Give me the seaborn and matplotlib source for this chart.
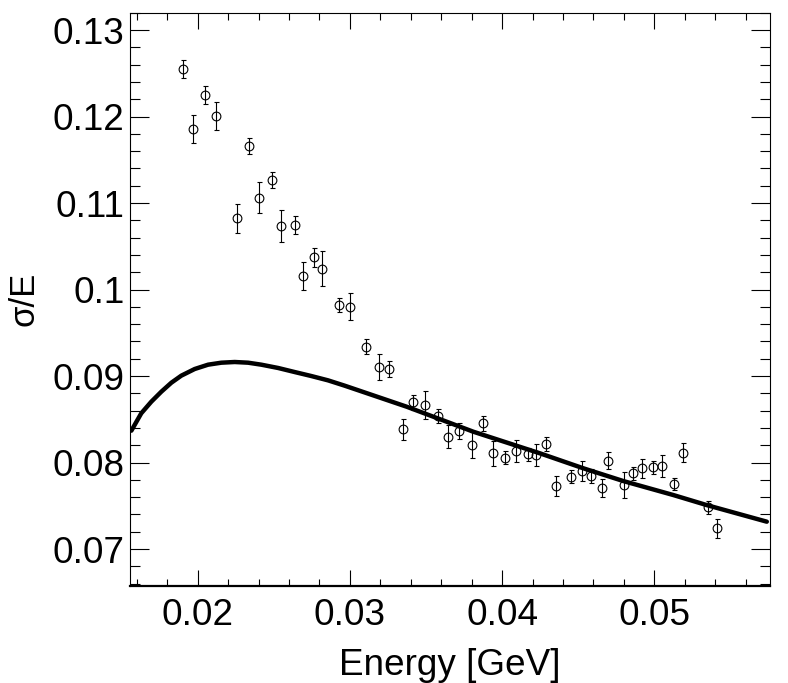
import numpy as np
import pandas as pd
import matplotlib
matplotlib.use("Agg")
import matplotlib.pyplot as plt
from matplotlib.ticker import MultipleLocator, FuncFormatter
import seaborn as sns

# ---- data ----
energy = [0.01905, 0.01971, 0.02048, 0.02118, 0.02256, 0.02337, 0.02403, 0.02490,
          0.02547, 0.02639, 0.02690, 0.02766, 0.02815, 0.02928, 0.03001, 0.03104,
          0.03193, 0.03259, 0.03351, 0.03417, 0.03493, 0.03577, 0.03647, 0.03719,
          0.03804, 0.03877, 0.03938, 0.04017, 0.04089, 0.04172, 0.04221, 0.04288,
          0.04354, 0.04451, 0.04527, 0.04582, 0.04654, 0.04698, 0.04803, 0.04858,
          0.04919, 0.04993, 0.05049, 0.05131, 0.05191, 0.05351, 0.05414]
resolution = [0.12546, 0.11852, 0.12249, 0.12006, 0.10823, 0.11659, 0.11061, 0.11266,
              0.10734, 0.10746, 0.10156, 0.10372, 0.10241, 0.09821, 0.09801, 0.09339,
              0.09101, 0.09081, 0.08384, 0.08696, 0.08665, 0.08538, 0.08298, 0.08364,
              0.08202, 0.08453, 0.08106, 0.08056, 0.08136, 0.08095, 0.08087, 0.08214,
              0.07728, 0.07836, 0.07902, 0.07844, 0.07709, 0.08021, 0.07740, 0.07875,
              0.07933, 0.07945, 0.07960, 0.07751, 0.08113, 0.07482, 0.07239]
res_err = [0.00102, 0.00160, 0.00101, 0.00164, 0.00168, 0.00096, 0.00177, 0.00096,
           0.00183, 0.00106, 0.00160, 0.00110, 0.00199, 0.00081, 0.00154, 0.00084,
           0.00148, 0.00096, 0.00124, 0.00090, 0.00164, 0.00084, 0.00130, 0.00090,
           0.00153, 0.00087, 0.00142, 0.00072, 0.00125, 0.00077, 0.00131, 0.00079,
           0.00113, 0.00077, 0.00110, 0.00079, 0.00106, 0.00098, 0.00145, 0.00073,
           0.00108, 0.00072, 0.00125, 0.00072, 0.00110, 0.00072, 0.00106]

fit_energy = [0.01564, 0.01629, 0.01695, 0.01761, 0.01827, 0.01892, 0.01980, 0.02068,
              0.02155, 0.02243, 0.02331, 0.02418, 0.02528, 0.02637, 0.02746, 0.02856,
              0.02966, 0.03373, 0.03811, 0.04249, 0.04534, 0.04796, 0.05125, 0.05344,
              0.05739]
fit_resolution = [0.08368, 0.08569, 0.08703, 0.08819, 0.08923, 0.09004, 0.09081, 0.09131,
                  0.09154, 0.09162, 0.09154, 0.09131, 0.09093, 0.09046, 0.09000, 0.08950,
                  0.08888, 0.08645, 0.08356, 0.08106, 0.07933, 0.07786, 0.07624, 0.07508,
                  0.07316]

x_title = "Energy [GeV]"
y_title = "σ/E"

pts = pd.DataFrame({"E": energy, "res": resolution, "err": res_err})
fit = pd.DataFrame({"E": fit_energy, "res": fit_resolution})

sns.set_theme(style="ticks")
plt.rcParams["font.family"] = ["Liberation Sans", "DejaVu Sans"]

W, H = 788, 683
fig = plt.figure(figsize=(W / 100, H / 100), dpi=100)
left, right, top, bottom = 130.3, 770.0, 12.7, 585.7
ax = fig.add_axes([left / W, 1 - bottom / H, (right - left) / W, (bottom - top) / H])
ax.set_facecolor("white")
fig.patch.set_facecolor("white")

ax.errorbar(pts["E"], pts["res"], yerr=pts["err"], fmt="o", ms=6.3, mfc="none",
            mec="black", mew=0.8, ecolor="black", elinewidth=0.8, capsize=1.8,
            capthick=0.8, zorder=2)

sns.lineplot(data=fit, x="E", y="res", ax=ax, color="black", linewidth=3.2,
             sort=False, estimator=None, zorder=3)

ax.set_xlim(0.01557, 0.0576)
ax.set_ylim(0.06576, 0.1320)

ax.xaxis.set_major_locator(MultipleLocator(0.01))
ax.xaxis.set_minor_locator(MultipleLocator(0.002))
ax.yaxis.set_major_locator(MultipleLocator(0.01))
ax.yaxis.set_minor_locator(MultipleLocator(0.002))
fmt = FuncFormatter(lambda v, p: "%g" % round(v, 4))
ax.xaxis.set_major_formatter(fmt)
ax.yaxis.set_major_formatter(fmt)

ax.tick_params(axis="both", which="both", direction="in", top=True, right=True,
               color="black", width=0.8, labelsize=26.6, labelcolor="black")
ax.tick_params(axis="x", which="major", length=11.5, pad=9)
ax.tick_params(axis="x", which="minor", length=5)
ax.tick_params(axis="y", which="major", length=14, pad=4)
ax.tick_params(axis="y", which="minor", length=7.5)

for s in ["left", "right", "top"]:
    ax.spines[s].set_linewidth(0.8)
    ax.spines[s].set_color("black")
ax.spines["bottom"].set_linewidth(1.6)
ax.spines["bottom"].set_color("black")

ax.set_xlabel(x_title, fontsize=26.6, color="black")
ax.set_ylabel(y_title, fontsize=25, color="black")
ax.xaxis.set_label_coords(0.5, -0.108)
ax.yaxis.set_label_coords(-0.14, 0.5)

fig.savefig("out.png", dpi=100, facecolor="white")
